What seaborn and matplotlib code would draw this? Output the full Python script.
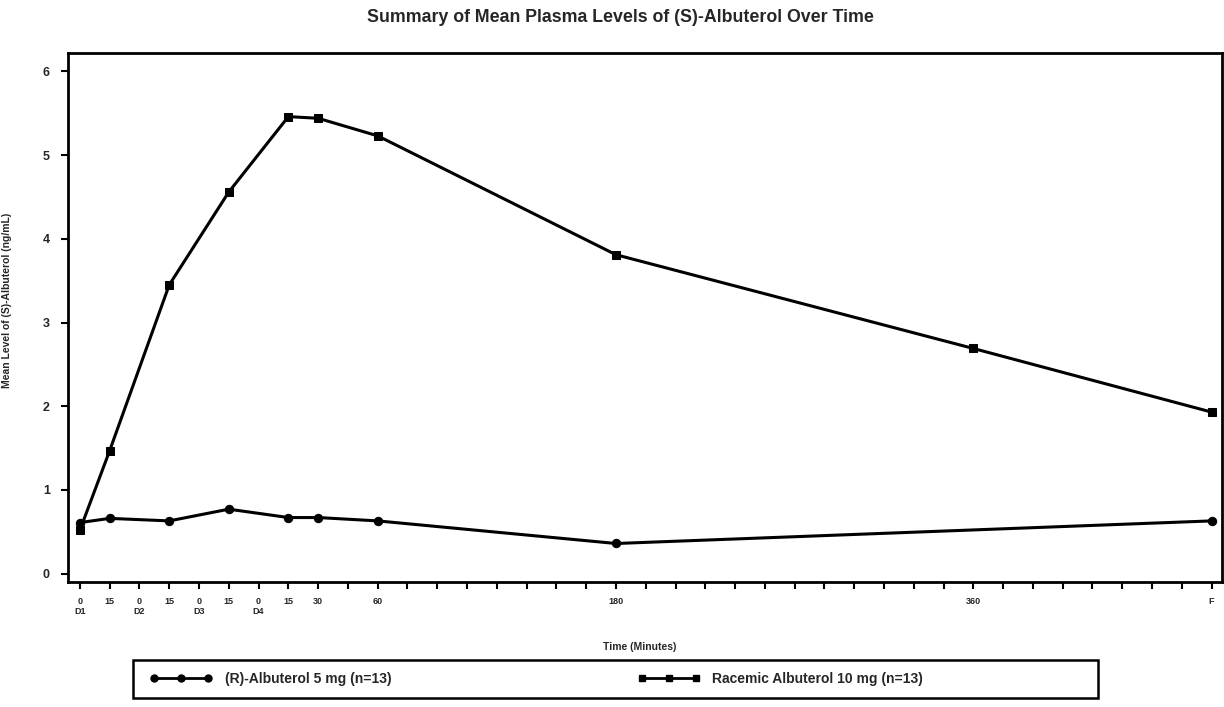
import matplotlib
matplotlib.use("Agg")
import matplotlib.pyplot as plt
import numpy as np
import pandas as pd
import seaborn as sns
from matplotlib.patches import Rectangle

# ---- data -------------------------------------------------------------
doses = ["D1", "D2", "D3", "D4"]

r_label = "(R)-Albuterol 5 mg (n=13)"
rac_label = "Racemic Albuterol 10 mg (n=13)"

# sampling times: dose period and minutes after that dose (F = final sample, 480 min)
r_dose = ["D1", "D1", "D2", "D3", "D4", "D4", "D4", "D4", "D4"]
r_minute = [0, 15, 15, 15, 15, 30, 60, 180, 480]
r_level = [0.61, 0.66, 0.63, 0.77, 0.67, 0.67, 0.63, 0.36, 0.63]

rac_dose = ["D1", "D1", "D2", "D3", "D4", "D4", "D4", "D4", "D4", "D4"]
rac_minute = [0, 15, 15, 15, 15, 30, 60, 180, 360, 480]
rac_level = [0.52, 1.47, 3.45, 4.56, 5.46, 5.44, 5.23, 3.81, 2.69, 1.93]

tick_dose = ["D1", "D1", "D2", "D2", "D3", "D3", "D4", "D4", "D4", "D4", "D4", "D4", "D4"]
tick_minute = [0, 15, 0, 15, 0, 15, 0, 15, 30, 60, 180, 360, 480]
tick_text = ["0\nD1", "15", "0\nD2", "15", "0\nD3", "15", "0\nD4", "15", "30",
             "60", "180", "360", "F"]

y_ticks = [0, 1, 2, 3, 4, 5, 6]


def axis_pos(dose, minute):
    """Time axis: 15-minute steps, each earlier dose period takes two steps."""
    return 2 * doses.index(dose) + minute / 15.0


frames = []
for name, dl, ml, vl in [(r_label, r_dose, r_minute, r_level),
                         (rac_label, rac_dose, rac_minute, rac_level)]:
    frames.append(pd.DataFrame({
        "pos": [axis_pos(d, m) for d, m in zip(dl, ml)],
        "level": vl,
        "group": name,
    }))
df = pd.concat(frames, ignore_index=True)

# ---- style ------------------------------------------------------------
sns.set_style("ticks")
plt.rcParams["font.family"] = ["Liberation Sans Narrow", "Liberation Sans", "DejaVu Sans"]
plt.rcParams["font.weight"] = "bold"

fig = plt.figure(figsize=(12.24, 7.07), dpi=100)
L, R, T, B = 68, 1222, 53, 582
W, H = 1224.0, 707.0
ax = fig.add_axes([L / W, 1 - B / H, (R - L) / W, (B - T) / H])

sns.lineplot(data=df, x="pos", y="level", hue="group", style="group",
             palette={r_label: "black", rac_label: "black"},
             markers={r_label: "o", rac_label: "s"}, dashes=False,
             markersize=6, markeredgecolor="black", linewidth=2.2,
             sort=False, legend=False, ax=ax)

last_pos = axis_pos("D4", 480)
ax.set_xlim(-0.4, last_pos + 0.35)
ax.set_ylim(-0.1, 6.22)

ax.set_xticks([axis_pos(d, m) for d, m in zip(tick_dose, tick_minute)])
ax.set_xticklabels(tick_text, fontsize=6.5, fontweight="bold", linespacing=1.1)
ax.set_xticks(np.arange(0, last_pos + 1), minor=True)
ax.tick_params(axis="x", which="both", length=5, width=1.5, pad=6, color="black")
ax.set_yticks(y_ticks)
ax.set_yticklabels([str(v) for v in y_ticks], fontsize=9, fontweight="bold")
ax.tick_params(axis="y", length=5, width=1.5, pad=8, color="black")

for s in ax.spines.values():
    s.set_visible(True)
    s.set_linewidth(2)
    s.set_color("black")

ax.set_xlabel("Time (Minutes)", fontsize=7.5, fontweight="bold")
ax.xaxis.set_label_coords((640 - L) / (R - L), (B - 642) / (B - T))
ax.set_ylabel("Mean Level of (S)-Albuterol (ng/mL)", fontsize=7.5, fontweight="bold")
ax.yaxis.set_label_coords((12 - L) / (R - L), (B - 300) / (B - T))

fig.text(620 / W, 1 - 18 / H,
         "Summary of Mean Plasma Levels of (S)-Albuterol Over Time",
         ha="center", va="center", fontsize=12.8, fontweight="bold")

# legend below the plot, inside a drawn frame
handles = [
    plt.Line2D([], [], color="black", lw=2, marker="o", markersize=5),
    plt.Line2D([], [], color="black", lw=2, marker="s", markersize=5),
]
fig.legend(handles, [r_label, rac_label], loc="center left",
           bbox_to_anchor=(150 / W, 1 - 679 / H), ncol=2, frameon=False,
           fontsize=10, numpoints=3, handlelength=4.5, handletextpad=0.9,
           columnspacing=17.7, borderaxespad=0, borderpad=0)
fig.add_artist(Rectangle((133 / W, 1 - 698 / H), (1098 - 133) / W, 38 / H,
                         transform=fig.transFigure, fill=False,
                         edgecolor="black", linewidth=1.8))

fig.savefig("out.png", dpi=100, facecolor="white")
